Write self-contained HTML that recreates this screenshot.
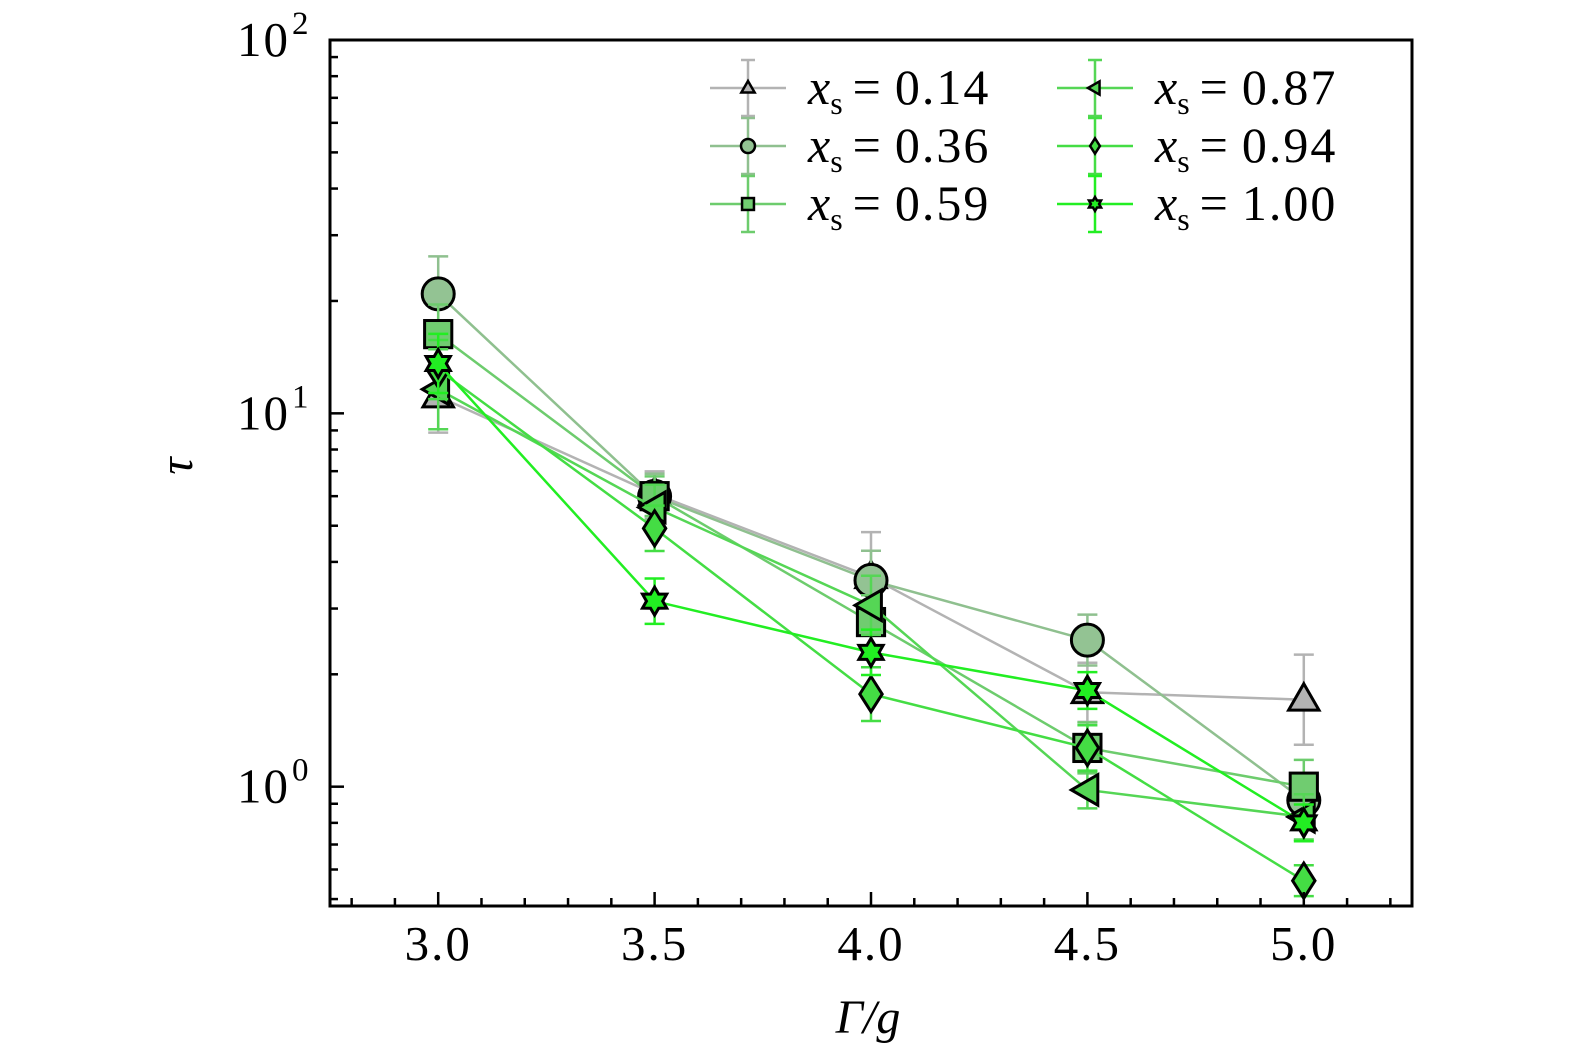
<!DOCTYPE html>
<html><head><meta charset="utf-8"><style>
html,body{margin:0;padding:0;background:#fff;}
svg{display:block;font-family:"Liberation Serif",serif;}
</style></head><body>
<svg id="chart" width="1575" height="1053" viewBox="0 0 1575 1053" xmlns="http://www.w3.org/2000/svg">
<g id="series"></g>
<rect x="330" y="40" width="1082" height="866" fill="none" stroke="#000" stroke-width="3"/>
<g id="axes"></g>
<text x="178" y="480" font-size="48" font-style="italic" text-anchor="middle" transform="rotate(-90 178 466)">τ</text>
<text x="868" y="1033" font-size="48" font-style="italic" text-anchor="middle">Γ/g</text>
<g id="legend"></g>
</svg>
<script>
const categories=[3.0,3.5,4.0,4.5,5.0];
const seriesNames=["0.14","0.36","0.59","0.87","0.94","1.00"];
const s014=[11.1,6.08,3.64,1.79,1.71];
const s036=[20.9,5.99,3.57,2.47,0.92];
const s059=[16.3,6.0,2.76,1.27,1.0];
const s087=[11.6,5.6,3.06,0.98,0.83];
const s094=[13.1,4.92,1.77,1.27,0.56];
const s100=[13.6,3.14,2.29,1.81,0.80];
const err014=[0.25,0.15,0.32,0.2,0.32];
const err036=[0.26,0.15,0.2,0.17,0.18];
const err059=[0.2,0.13,0.18,0.17,0.18];
const err087=[0.28,0.15,0.2,0.12,0.15];
const err094=[0.2,0.15,0.18,0.15,0.1];
const err100=[0.2,0.15,0.15,0.12,0.12];
const xTicks=[3.0,3.5,4.0,4.5,5.0];
const xTickLabels=["3.0","3.5","4.0","4.5","5.0"];
const yExps=[0,1,2];

const NS="http://www.w3.org/2000/svg";
const X0=330,X1=1412,Y0=40,Y1=906;
const xmin=2.75,xmax=5.25;
const ymin=-0.3196,ymax=2;
const xs=v=>X0+(v-xmin)/(xmax-xmin)*(X1-X0);
const ys=v=>Y1-(Math.log10(v)-ymin)/(ymax-ymin)*(Y1-Y0);
function mk(tag,attrs,parent){const e=document.createElementNS(NS,tag);for(const k in attrs)e.setAttribute(k,attrs[k]);parent.appendChild(e);return e;}
const axes=document.getElementById('axes');
for(let i=0;i<=25;i++){
  const v=2.8+i*0.1; if(v>xmax+1e-9) break;
  const isMaj=xTicks.some(t=>Math.abs(t-v)<1e-6);
  const len=isMaj?14:8;const x=xs(v);
  const t1=mk('line',{x1:x,x2:x,y1:Y1,y2:Y1-len,stroke:'#000','stroke-width':2.5},axes);
  
  
}
xTicks.forEach((v,i)=>{
  const t=mk('text',{x:xs(v),y:960,'font-size':49,'text-anchor':'middle','letter-spacing':'2'},axes);
  t.textContent=xTickLabels[i];
  
  
});
for(let e=-1;e<=2;e++){
  for(let m=1;m<=9;m++){
    const v=m*Math.pow(10,e); if(Math.log10(v)<ymin||v>100.01) continue;
    const y=ys(v);const len=m===1?14:8;
    const a=mk('line',{x1:X0,x2:X0+len,y1:y,y2:y,stroke:'#000','stroke-width':2.5},axes);
    
    
  }
}
yExps.forEach(e=>{
  const y=ys(Math.pow(10,e));
  const t=mk('text',{x:290,y:y+16,'font-size':49,'text-anchor':'end','letter-spacing':'2'},axes);
  t.textContent='10';
  
  
  const s=mk('text',{x:292,y:y-6,'font-size':33,'text-anchor':'start'},axes);
  s.textContent=String(e);
  
  
});

const data=[s014,s036,s059,s087,s094,s100];
const errs=[err014,err036,err059,err087,err094,err100];
const lineCols=["#b3b3b3","#8fc08f","#6dcc6d","#55d655","#44dd44","#22ee22"];
const fillCols=["#b3b3b3","#93c393","#70cc70","#55d655","#44dd44","#22ee22"];
const shapes=["tri","circle","square","left","diamond","star"];
function marker(shape,cx,cy,r,fill,parent){
  const st={fill:fill,stroke:'#000','stroke-width':3,'stroke-linejoin':'miter'};
  let el;
  if(shape==='circle'){el=mk('circle',Object.assign({cx:cx,cy:cy,r:r},st),parent);}
  else if(shape==='square'){el=mk('rect',Object.assign({x:cx-r*0.85,y:cy-r*0.85,width:r*1.7,height:r*1.7},st),parent);}
  else{
    let pts=[];
    if(shape==='tri')pts=[[0,-r],[r*0.95,r*0.65],[-r*0.95,r*0.65]];
    else if(shape==='left')pts=[[-r,0],[r*0.65,-r*0.95],[r*0.65,r*0.95]];
    else if(shape==='diamond')pts=[[0,-r*1.1],[r*0.7,0],[0,r*1.1],[-r*0.7,0]];
    else if(shape==='star'){for(let k=0;k<12;k++){const a=-Math.PI/2+k*Math.PI/6;const rr=k%2?r*0.58:r;pts.push([rr*Math.cos(a),rr*Math.sin(a)]);}}
    el=mk('polygon',Object.assign({points:pts.map(p=>(cx+p[0])+','+(cy+p[1])).join(' ')},st),parent);
  }
  return el;
}
const sg=document.getElementById('series');
data.forEach((arr,si)=>{
  const g=mk('g',{},sg);
  
  
  const c=lineCols[si];
  const pl=mk('polyline',{points:arr.map((v,i)=>xs(categories[i])+','+ys(v)).join(' '),fill:'none',stroke:c,'stroke-width':2.5},g);
  
  
  arr.forEach((v,i)=>{
    const x=xs(categories[i]);const hi=ys(v*(1+errs[si][i])),lo=ys(v/(1+errs[si][i]));
    const eb=mk('path',{d:`M${x},${hi}V${lo}M${x-10},${hi}H${x+10}M${x-10},${lo}H${x+10}`,stroke:c,'stroke-width':2.5,fill:'none'},g);
    
    
  });
  arr.forEach((v,i)=>{
    const m=marker(shapes[si],xs(categories[i]),ys(v),shapes[si]==='star'?14:16,fillCols[si],g);
    
    
  });
});
const lg=document.getElementById('legend');
seriesNames.forEach((n,si)=>{
  const col=Math.floor(si/3),row=si%3;
  const cx=748+col*347, cy=88+row*58;
  const g=mk('g',{},lg);
  
  
  const c=lineCols[si];
  mk('path',{d:`M${cx-38},${cy}H${cx+38}M${cx},${cy-28}V${cy+28}M${cx-7},${cy-28}H${cx+7}M${cx-7},${cy+28}H${cx+7}`,stroke:c,'stroke-width':2.5,fill:'none'},g);
  marker(shapes[si],cx,cy,7,fillCols[si],g).setAttribute('stroke-width','2.5');
  const t=mk('text',{x:cx+60,y:cy+16,'font-size':50},g);
  t.innerHTML='<tspan font-style="italic">x</tspan><tspan font-size="32" dy="10">s</tspan><tspan dy="-10" dx="10">=</tspan><tspan dx="14" letter-spacing="2">'+n+'</tspan>';
});
</script>
</body></html>
